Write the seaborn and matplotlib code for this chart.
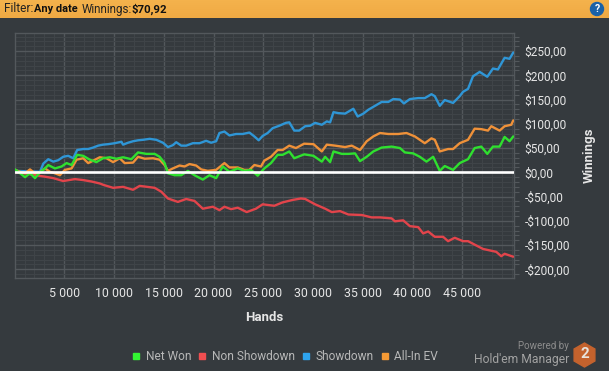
import matplotlib
matplotlib.use('Agg')
import matplotlib.pyplot as plt
import numpy as np
import seaborn as sns
from matplotlib.lines import Line2D
from matplotlib.patches import Circle, RegularPolygon
from matplotlib.ticker import FixedLocator, FuncFormatter, MultipleLocator

# values
net_hands = [50, 550, 1050, 1550, 2055, 2555, 3055, 3390, 4060, 4725, 5225, 5730, 6295, 6900, 7565, 8230, 8900, 9570, 10235, 10905, 11740, 12410, 13245, 14080, 14580, 15080, 15415, 16080, 16750, 17420, 18085, 18920, 19590, 20260, 20925, 21595, 22430, 23095, 23765, 24435, 25100, 25770, 26440, 26940, 27610, 28110, 29110, 30045, 30880, 31215, 31715, 32050, 32885, 33550, 34220, 34720, 35390, 36055, 36890, 37895, 38730, 39230, 40065, 40730, 41400, 42070, 42735, 43235, 44070, 44740, 45575, 46240, 46910, 47510, 48080, 48750, 49250, 49750, 50120]
net_won = [6, -2, -10, -2, -12, 0, 8, 15, 8, 12, 19, 15, 36, 34, 26, 21, 29, 31, 28, 31, 27, 41, 38, 38, 32, 19, -2, -6, -6, 3, -6, -15, -6, -12, 12, 1, 8, 3, 5, -7, 8, 19, 36, 36, 43, 29, 37, 34, 22, 32, 21, 43, 38, 38, 39, 23, 32, 43, 51, 53, 50, 41, 39, 32, 22, 32, 3, 13, 5, 19, 27, 50, 53, 38, 53, 53, 73, 64, 74]

nsd_hands = [50, 1050, 2055, 3055, 3890, 4890, 6060, 6900, 7735, 8565, 8940, 9905, 10905, 11905, 12575, 14080, 14745, 15415, 16415, 17250, 18085, 18920, 19925, 20590, 21095, 21760, 22430, 23330, 24265, 24935, 26105, 26940, 27940, 28775, 29210, 30210, 31215, 31880, 32715, 33550, 34890, 35890, 36725, 37895, 38230, 39060, 39730, 40565, 41065, 41565, 42235, 43070, 43570, 44240, 45075, 45575, 47080, 48415, 48915, 49250, 50120]
non_showdown = [0, -2, -6, -9, -12, -18, -14, -16, -19, -23, -26, -32, -30, -36, -28, -32, -40, -54, -61, -55, -59, -75, -71, -78, -71, -76, -73, -82, -75, -66, -69, -62, -57, -54, -55, -66, -75, -82, -80, -87, -88, -93, -93, -95, -101, -99, -111, -113, -126, -122, -133, -133, -142, -135, -142, -142, -158, -164, -173, -168, -174]

sd_hands = [50, 2555, 2890, 3390, 3890, 4390, 4890, 5390, 5895, 6295, 6900, 7400, 7900, 8400, 8900, 9400, 10070, 10740, 10905, 11405, 11905, 12410, 12910, 13580, 14245, 14915, 15415, 15915, 16250, 16750, 17250, 17920, 18590, 19255, 19755, 20260, 20590, 21095, 21595, 22265, 22930, 23600, 24100, 24535, 24935, 25435, 25940, 26605, 27275, 27610, 28110, 28610, 29210, 29710, 30210, 30880, 31380, 31715, 32050, 32550, 33215, 34050, 34485, 35055, 35555, 36225, 36890, 37560, 38060, 38730, 39130, 39730, 40565, 41230, 41900, 42235, 42735, 43235, 44070, 44740, 45075, 45575, 46075, 46745, 47510, 48080, 48580, 49250, 49750, 50120]
showdown = [3, 1, 18, 27, 22, 25, 32, 34, 29, 46, 48, 48, 51, 55, 57, 58, 60, 63, 57, 61, 64, 66, 67, 69, 67, 61, 52, 56, 62, 55, 55, 60, 60, 65, 61, 64, 81, 84, 76, 79, 79, 82, 74, 66, 75, 81, 91, 96, 102, 103, 86, 86, 95, 96, 102, 98, 105, 103, 124, 122, 121, 131, 115, 121, 129, 137, 145, 145, 151, 150, 142, 151, 153, 153, 161, 157, 137, 149, 143, 157, 166, 172, 198, 207, 197, 214, 212, 236, 234, 247]

ev_hands = [50, 550, 1050, 1550, 2055, 2555, 3055, 3555, 4060, 4560, 5060, 5730, 6230, 6900, 7400, 7900, 8565, 9235, 9905, 10570, 11070, 11905, 12410, 13080, 13910, 14580, 15080, 15415, 15915, 16585, 17085, 17585, 18250, 18755, 19420, 20260, 21095, 21595, 22430, 23095, 23600, 24100, 24765, 25100, 25770, 26440, 26940, 27610, 28275, 29110, 30045, 30880, 31380, 32215, 33215, 33885, 34720, 35390, 36055, 36725, 37560, 38560, 39395, 40230, 41230, 41900, 42235, 42735, 43570, 44070, 44740, 45575, 46240, 46910, 47580, 47915, 48750, 49250, 49920, 50120]
all_in_ev = [5, 1, -2, 6, -2, 0, 8, 1, -2, -6, 5, 8, 26, 29, 19, 24, 31, 29, 21, 29, 19, 20, 32, 28, 29, 26, 15, 3, 8, 14, 12, 17, 14, 6, 3, 5, 19, 10, 10, 5, 5, 15, 12, 24, 32, 46, 46, 55, 50, 59, 58, 43, 57, 55, 52, 55, 46, 64, 74, 81, 79, 79, 81, 74, 60, 70, 67, 43, 48, 48, 60, 67, 90, 89, 86, 95, 86, 95, 98, 107]

names = ['Non Showdown', 'Showdown', 'All-In EV', 'Net Won']
xs = [nsd_hands, sd_hands, ev_hands, net_hands]
ys = [non_showdown, showdown, all_in_ev, net_won]
x_ticks = [5000, 10000, 15000, 20000, 25000, 30000, 35000, 40000, 45000]
colors = {'Net Won': '#2fe02f', 'Non Showdown': '#e2444b', 'Showdown': '#2f96d6', 'All-In EV': '#ef9139'}
legend_colors = {'Net Won': '#33f533', 'Non Showdown': '#f04e50', 'Showdown': '#2ea4ee', 'All-In EV': '#f59a35'}
legend_order = ['Net Won', 'Non Showdown', 'Showdown', 'All-In EV']

BG = '#353a3e'
TEXT = '#e6e6e6'

sns.set_theme(style='dark', rc={'axes.facecolor': BG, 'figure.facecolor': BG})
plt.rcParams['font.family'] = ['Roboto', 'DejaVu Sans']

W, H = 609, 371
fig = plt.figure(figsize=(W / 100, H / 100), dpi=100)
ax = fig.add_axes([15.3 / W, 1 - 277.7 / H, (513.7 - 15.3) / W, (277.7 - 33.3) / H])

for name, x, y in zip(names, xs, ys):
    sns.lineplot(x=x, y=y, ax=ax, color=colors[name], lw=1.7, estimator=None, sort=False, zorder=3)
ax.axhline(0, color='white', lw=1.9, zorder=4)

ax.set_xlim(75, 50165)
ax.set_ylim(-217.3, 286.6)
ax.xaxis.set_major_locator(FixedLocator(x_ticks))
ax.xaxis.set_minor_locator(MultipleLocator(1000))
ax.yaxis.set_major_locator(MultipleLocator(50))
ax.yaxis.set_minor_locator(MultipleLocator(10))
ax.xaxis.set_major_formatter(FuncFormatter(lambda v, p: f'{int(v):,}'.replace(',', ' ')))
ax.yaxis.set_major_formatter(FuncFormatter(lambda v, p: ('-' if v < 0 else '') + f'${abs(v):.2f}'.replace('.', ',')))
ax.yaxis.tick_right()
ax.yaxis.set_label_position('right')

ax.grid(True, which='major', color='#53585c', lw=1.0, zorder=1)
ax.grid(True, which='minor', color='#3f4448', lw=0.8, zorder=0)
ax.set_axisbelow(True)
ax.tick_params(which='major', length=0, labelcolor=TEXT)
ax.tick_params(which='minor', length=3.5, width=0.8, color='#53585c')
ax.tick_params(axis='x', which='major', pad=6.5, labelsize=8.9)
ax.tick_params(axis='y', which='major', pad=8, labelsize=8.6)
for s in ax.spines.values():
    s.set_color('#53585c')
    s.set_linewidth(1.0)

ax.set_xlabel('Hands', fontsize=9.5, fontweight='bold', color=TEXT, labelpad=8)
ax.set_ylabel('Winnings', fontsize=9.5, fontweight='bold', color=TEXT, labelpad=9)

handles = [Line2D([], [], ls='', marker='s', ms=4.5, color=legend_colors[n]) for n in legend_order]
fig.legend(handles, legend_order, loc='center left', bbox_to_anchor=(129.5 / W, 1 - 357 / H), ncol=4, frameon=False,
           fontsize=8.6, labelcolor='#b8b8b8', handlelength=1.1, handletextpad=0.25, columnspacing=0.38,
           borderpad=0, borderaxespad=0)

# header bar and logo, in pixel coordinates
chrome = fig.add_axes([0, 0, 1, 1], zorder=5)
chrome.axis('off')
bar = np.linspace(0, 1, 18).reshape(-1, 1)
cmap = matplotlib.colors.LinearSegmentedColormap.from_list('bar', ['#f4b24c', '#f0aa44'])
chrome.imshow(bar, extent=[0, W, 18, 0], cmap=cmap, aspect='auto')
chrome.set_xlim(0, W)
chrome.set_ylim(H, 0)
chrome.text(4, 9, 'Filter:', fontsize=8.6, color='#222222', va='center')
chrome.text(33.5, 9, 'Any date', fontsize=7.9, fontweight='bold', color='#111111', va='center')
chrome.text(81.5, 9, 'Winnings:', fontsize=8.4, color='#222222', va='center')
chrome.text(131, 9, '$70,92', fontsize=8.2, fontweight='bold', color='#111111', va='center')
chrome.add_patch(Circle((597, 9), 6.5, color='#1b62a8', zorder=2))
chrome.text(597, 9, '?', fontsize=7.5, fontweight='bold', color='white', ha='center', va='center', zorder=3)

chrome.text(569, 346, 'Powered by', fontsize=7, color='#8d8d8d', ha='right', va='center')
chrome.text(569, 359, "Hold'em Manager", fontsize=8.7, color='#a2a2a2', ha='right', va='center')
chrome.add_patch(RegularPolygon((584.5, 355), 6, radius=12, color='#c4622d', zorder=2))
chrome.text(584.5, 354.5, '2', fontsize=11, fontweight='bold', color='#e8e2dc', ha='center', va='center', zorder=3)

fig.savefig('out.png', dpi=100, facecolor=BG)
